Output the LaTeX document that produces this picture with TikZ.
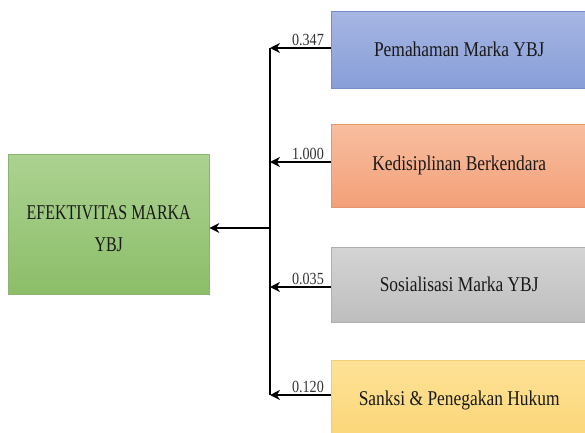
\documentclass[tikz,border=0pt]{standalone}
\usepackage{fontspec}
\setmainfont{Liberation Serif}
\usetikzlibrary{arrows.meta}
\definecolor{gtop}{RGB}{172,210,145}
\definecolor{gbot}{RGB}{140,190,105}
\definecolor{gdr}{RGB}{140,180,110}
\definecolor{btop}{RGB}{166,182,226}
\definecolor{bbot}{RGB}{136,158,216}
\definecolor{bdr}{RGB}{120,140,200}
\definecolor{otop}{RGB}{248,190,160}
\definecolor{obot}{RGB}{243,160,120}
\definecolor{odr}{RGB}{230,150,110}
\definecolor{stop}{RGB}{212,212,212}
\definecolor{sbot}{RGB}{190,190,190}
\definecolor{sdr}{RGB}{175,175,175}
\definecolor{ytop}{RGB}{253,226,150}
\definecolor{ybot}{RGB}{252,214,120}
\definecolor{ydr}{RGB}{240,205,120}
\newcommand\narrowtxt[2][0.83]{\scalebox{#1}[1]{#2}}
\begin{document}
\begin{tikzpicture}[x=1pt,y=1pt,
  box/.style={rectangle, inner sep=0pt, anchor=north west, font=\fontsize{21}{30}\selectfont, align=center, text=black!90},
  conn/.style={line width=2.2pt, -{Stealth[length=10pt,width=10pt]}},
  wlabel/.style={font=\fontsize{17}{18}\selectfont, anchor=south east, inner sep=1pt, text=black!80}]
\useasboundingbox (0,0) rectangle (585,432);
% boxes (y = 432 - pixel y)
\node[box, minimum width=201pt, minimum height=140pt, top color=gtop, bottom color=gbot, draw=gdr] (eff) at (8,278) {\narrowtxt[0.76]{\begin{tabular}{@{}c@{}}\rule{0pt}{31pt}EFEKTIVITAS MARKA\\[2pt]YBJ\end{tabular}}};
\node[box, minimum width=256pt, minimum height=77pt, top color=btop, bottom color=bbot, draw=bdr] (pem) at (331,421) {\narrowtxt{Pemahaman Marka YBJ}};
\node[box, minimum width=256pt, minimum height=83pt, top color=otop, bottom color=obot, draw=odr] (ked) at (331,308) {\narrowtxt{Kedisiplinan Berkendara}};
\node[box, minimum width=256pt, minimum height=75pt, top color=stop, bottom color=sbot, draw=sdr] (sos) at (331,185) {\narrowtxt{Sosialisasi Marka YBJ}};
\node[box, minimum width=256pt, minimum height=80pt, top color=ytop, bottom color=ybot, draw=ydr] (san) at (331,72) {\narrowtxt{Sanksi \& Penegakan Hukum}};
% junction coordinates on the vertical bus
\coordinate (j1) at (270,384);
\coordinate (j2) at (270,270);
\coordinate (j3) at (270,145);
\coordinate (j4) at (270,37);
\coordinate (jm) at (270,204);
\draw[line width=1.3pt] (j1) -- (j4);
\draw[conn] (pem.west |- j1) -- (j1);
\draw[conn] (ked.west |- j2) -- (j2);
\draw[conn] (sos.west |- j3) -- (j3);
\draw[conn] (san.west |- j4) -- (j4);
\draw[conn] (jm) -- (eff.east |- jm);
% weight labels
\node[wlabel] (l1) at (325,385) {\narrowtxt{0.347}};
\node[wlabel] (l2) at (325,271) {\narrowtxt{1.000}};
\node[wlabel] (l3) at (325,146) {\narrowtxt{0.035}};
\node[wlabel] (l4) at (325,38) {\narrowtxt{0.120}};
\end{tikzpicture}
\end{document}
